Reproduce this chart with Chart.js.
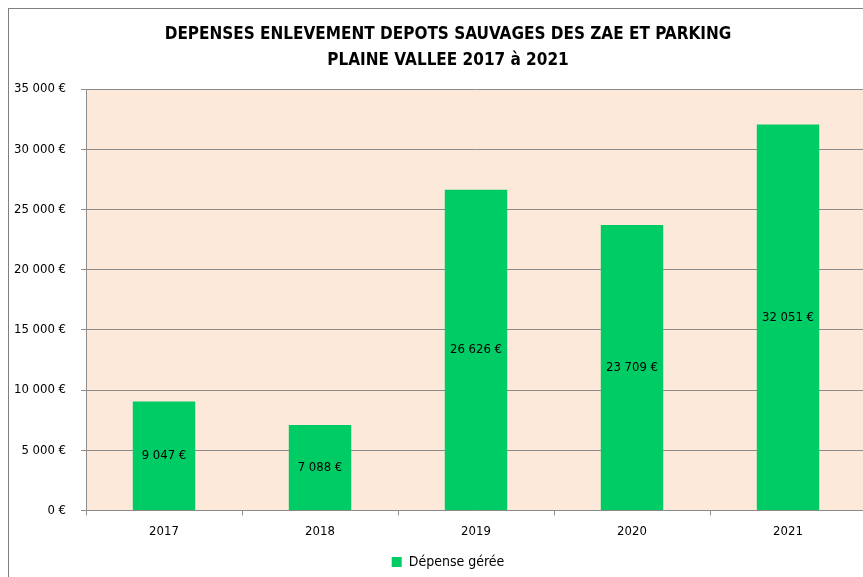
<!DOCTYPE html>
<html lang="fr">
<head>
    <meta charset="UTF-8">
    <script src="https://cdn.jsdelivr.net/npm/chart.js"></script>
    <title>Dépenses Plaine Vallée</title>
    <style>
        body { margin: 0; overflow: hidden; background: #fff; }
        #cadre {
            position: absolute; left: 8px; top: 8px;
            width: 878px; height: 572px;
            border: 1px solid #7f7f7f;
            background: #fff;
        }
    </style>
</head>
<body>
<div id="cadre">
    <canvas id="graficoDepenses" width="878" height="572"></canvas>
</div>
<script>
    // donnees
    var annees = ['2017', '2018', '2019', '2020', '2021']
    var depenses = [9047, 7088, 26626, 23709, 32051]
    var titre = ['DEPENSES ENLEVEMENT DEPOTS SAUVAGES DES ZAE ET PARKING', 'PLAINE VALLEE 2017 à 2021']
    var serie = 'Dépense gérée'

    var police = "'Liberation Sans Narrow', 'DejaVu Sans Condensed', 'Liberation Sans', sans-serif"

    function euros(v) {
        return String(Math.round(v)).replace(/\B(?=(\d{3})+(?!\d))/g, ' ') + ' €'
    }

    // fond saumon de la zone de tracé
    const fondZone = {
        id: 'fondZone',
        beforeDraw(chart) {
            const a = chart.chartArea
            const ctx = chart.ctx
            ctx.save()
            ctx.fillStyle = '#fde9d9'
            ctx.fillRect(a.left, a.top, a.right - a.left, a.bottom - a.top)
            ctx.restore()
        }
    }

    // valeurs au milieu des barres
    const etiquettes = {
        id: 'etiquettes',
        afterDatasetsDraw(chart) {
            const ctx = chart.ctx
            const meta = chart.getDatasetMeta(0)
            ctx.save()
            ctx.font = '13px ' + police
            ctx.fillStyle = '#000'
            ctx.textAlign = 'center'
            ctx.textBaseline = 'middle'
            meta.data.forEach(function (barre, i) {
                ctx.fillText(euros(depenses[i]), barre.x, (barre.y + barre.base) / 2)
            })
            ctx.restore()
        }
    }

    new Chart(graficoDepenses, {
        type: 'bar',
        data: {
            labels: annees,
            datasets: [{
                label: serie,
                data: depenses,
                backgroundColor: '#00cc66',
                categoryPercentage: 1,
                barPercentage: 0.4
            }]
        },
        options: {
            responsive: false,
            animation: false,
            layout: { padding: { left: 0, right: 0, top: 0, bottom: 2 } },
            plugins: {
                title: {
                    display: true,
                    text: titre,
                    color: '#000',
                    font: { family: police, size: 17, weight: 'bold', lineHeight: 1.5 },
                    padding: { top: 13, bottom: 16 }
                },
                legend: {
                    position: 'bottom',
                    labels: {
                        color: '#000',
                        boxWidth: 10,
                        boxHeight: 10,
                        padding: 8,
                        font: { family: police, size: 14 }
                    }
                },
                tooltip: { enabled: false }
            },
            scales: {
                x: {
                    grid: { drawOnChartArea: false, drawTicks: true, tickLength: 5, color: '#8c8c8c' },
                    border: { color: '#8c8c8c' },
                    ticks: { color: '#000', padding: 8, font: { family: police, size: 13 } }
                },
                y: {
                    min: 0,
                    max: 35000,
                    afterFit: function (scale) { scale.width = 77 },
                    grid: { color: '#8c8c8c', tickLength: 5 },
                    border: { color: '#8c8c8c' },
                    ticks: {
                        stepSize: 5000,
                        color: '#000',
                        padding: 15,
                        font: { family: police, size: 13 },
                        callback: function (v) { return euros(v) }
                    }
                },
                // marge droite vide
                marge: {
                    position: 'right',
                    grid: { display: false },
                    border: { display: false },
                    ticks: { display: false },
                    afterFit: function (scale) { scale.width = 21 }
                }
            }
        },
        plugins: [fondZone, etiquettes]
    })
</script>
</body>
</html>
